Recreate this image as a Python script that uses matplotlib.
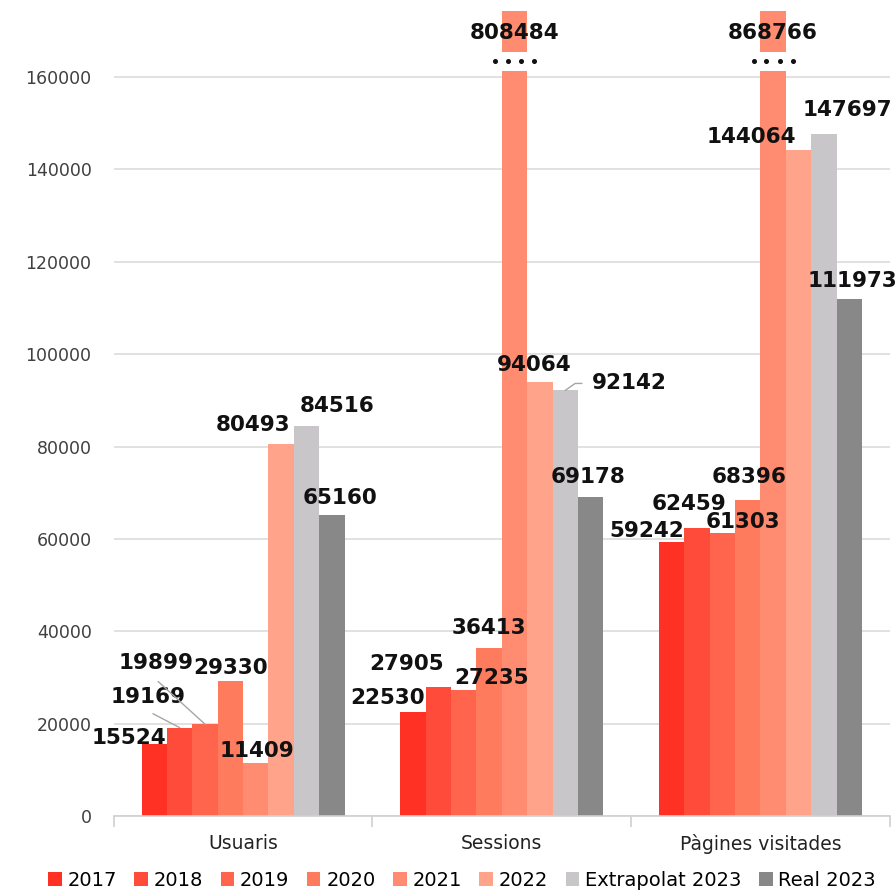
import numpy as np
import matplotlib
matplotlib.use("Agg")
import matplotlib.pyplot as plt
from matplotlib.patches import Patch

# data
categories = ["Usuaris", "Sessions", "Pàgines visitades"]
series = ["2017", "2018", "2019", "2020", "2021", "2022", "Extrapolat 2023", "Real 2023"]
values = {
    "2017": [15524, 22530, 59242],
    "2018": [19169, 27905, 62459],
    "2019": [19899, 27235, 61303],
    "2020": [29330, 36413, 68396],
    "2021": [11409, 808484, 868766],
    "2022": [80493, 94064, 144064],
    "Extrapolat 2023": [84516, 92142, 147697],
    "Real 2023": [65160, 69178, 111973],
}
yticks = [0, 20000, 40000, 60000, 80000, 100000, 120000, 140000, 160000]

colors = ["#ff3024", "#ff4b3a", "#ff644c", "#ff7b5e", "#ff8c70", "#ffa48a", "#c8c6c8", "#888888"]

# label offsets in points (dx, dy) per series per category; None = broken bar
label_off = {
    "2017": [(-18, 5), (-18, 10), (-18, 8)],
    "2018": [(-23, 22), (-23, 17), (-6, 17)],
    "2019": [(-35, 44), (20, 9), (15, 8)],
    "2020": [(0, 9), (0, 14), (1, 17)],
    "2021": [(1, 9), None, None],
    "2022": [(-20, 14), (-4, 12), (-34, 10)],
    "Extrapolat 2023": [(22, 14), (46, 5), (17, 17)],
    "Real 2023": [(6, 12), (-2, 14), (2, 13)],
}
leaders = {("2018", 0), ("2019", 0)}
angled_leader = {("Extrapolat 2023", 1)}

YMAX = 174300
BREAK_LO, BREAK_HI = 161300, 165400

fig = plt.figure(figsize=(8.96, 8.93), dpi=100)
ax = fig.add_axes([0.127, 0.086, 0.866, 0.902])

n = len(series)
group_w = 0.785
bw = group_w / n
x = np.arange(len(categories))

for i, s in enumerate(series):
    xs = x + (i - (n - 1) / 2) * bw
    for j, v in enumerate(values[s]):
        if v > YMAX:
            ax.bar(xs[j], BREAK_LO, bw, color=colors[i], zorder=2)
            ax.bar(xs[j], YMAX - BREAK_HI, bw, bottom=BREAK_HI, color=colors[i], zorder=2)
            ax.plot(xs[j] + np.array([-0.85, -0.3, 0.3, 0.85]) * bw * 0.9,
                    [(BREAK_LO + BREAK_HI) / 2] * 4, "o", ms=2.6, color="#111111", zorder=4)
            ax.text(xs[j], 169550, f"{v}", ha="center", va="center", fontsize=15.5,
                    fontweight="bold", color="#111111", zorder=5)
            continue
        ax.bar(xs[j], v, bw, color=colors[i], zorder=2)
        dx, dy = label_off[s][j]
        if (s, j) in leaders:
            ax.annotate(f"{v}", xy=(xs[j], v), xytext=(dx, dy), textcoords="offset points",
                        ha="center", va="center", fontsize=15.5, fontweight="bold", color="#111111",
                        zorder=5,
                        arrowprops=dict(arrowstyle="-", color="#a6a6a6", lw=1.0,
                                        relpos=(0.4, 0), shrinkA=6, shrinkB=0))
        elif (s, j) in angled_leader:
            ax.annotate(f"{v}", xy=(xs[j], v), xytext=(dx, dy), textcoords="offset points",
                        ha="center", va="center", fontsize=15.5, fontweight="bold", color="#111111",
                        zorder=5,
                        arrowprops=dict(arrowstyle="-", color="#a6a6a6", lw=1.0,
                                        relpos=(0, 0.5), shrinkA=5, shrinkB=0,
                                        connectionstyle="angle,angleA=0,angleB=35,rad=0"))
        else:
            ax.annotate(f"{v}", xy=(xs[j], v), xytext=(dx, dy), textcoords="offset points",
                        ha="center", va="center", fontsize=15.5, fontweight="bold", color="#111111",
                        zorder=5)

ax.set_xlim(-0.5, len(categories) - 0.5)
ax.set_ylim(0, YMAX)
ax.set_yticks(yticks)
ax.set_yticklabels([str(t) for t in yticks], fontsize=12.5, color="#404040")
ax.tick_params(axis="y", length=0, pad=16)
ax.grid(axis="y", color="#dcdcdc", lw=1.2, zorder=0)

ax.set_xticks(x)
ax.set_xticklabels(categories, fontsize=13.5, color="#222222")
ax.tick_params(axis="x", length=0, pad=13)
ax.set_xticks(np.arange(len(categories) + 1) - 0.5, minor=True)
ax.tick_params(axis="x", which="minor", length=8, color="#d0d0d0", width=1.2)

for sp in ["left", "right", "top"]:
    ax.spines[sp].set_visible(False)
ax.spines["bottom"].set_color("#d0d0d0")
ax.spines["bottom"].set_linewidth(1.2)

handles = [Patch(facecolor=c, label=s) for c, s in zip(colors, series)]
fig.legend(handles=handles, loc="center", bbox_to_anchor=(462 / 896, 1 - 880 / 893), ncol=8,
           frameon=False, handlelength=0.7, handleheight=0.7, handletextpad=0.3,
           columnspacing=0.9, prop={"size": 14})

fig.savefig("out.png", dpi=100)
